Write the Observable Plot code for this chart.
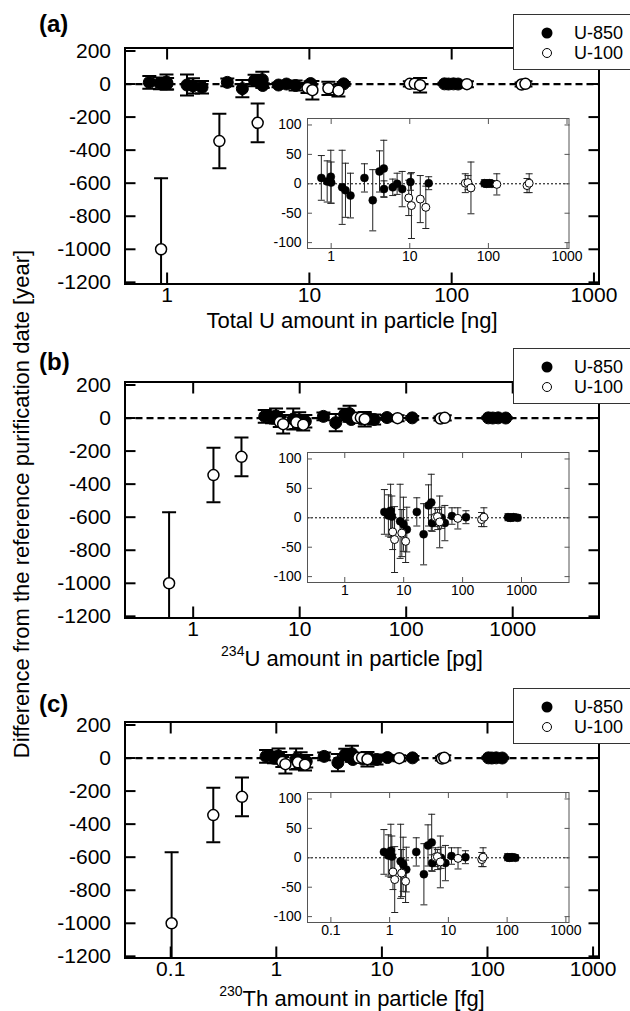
<!DOCTYPE html>
<html><head><meta charset="utf-8">
<script src="https://cdn.jsdelivr.net/npm/d3@7"></script>
<script src="https://cdn.jsdelivr.net/npm/@observablehq/plot@0.6"></script>
<style>
body{margin:0;background:#fff;}
#root{position:relative;width:630px;height:1011px;overflow:hidden;font-family:"Liberation Sans",Arial,sans-serif;color:#000;}
.panel{position:absolute;left:0;width:630px;height:337px;}
.abs{position:absolute;}
</style></head><body><div id="root"></div>
<script>
// ---- data ----
const seriesNames = ["U-850", "U-100"];
// U-850 (filled circles)
const u850TotalU = [0.75, 0.89, 0.99, 1.0, 1.38, 1.52, 1.76, 2.65, 3.38, 4.12, 4.67, 4.7, 6.07, 6.9, 8.0, 10.2, 17.4, 89, 95, 103, 111];
const u850U234   = [4.7, 5.5, 6.0, 6.3, 8.7, 9.9, 11.3, 16.7, 21.8, 26.4, 29.4, 30.5, 38, 44, 50, 66, 114, 590, 650, 730, 860];
const u850Th230  = [0.80, 0.95, 1.05, 1.09, 1.54, 1.70, 1.92, 2.84, 3.83, 4.5, 5.2, 5.3, 6.6, 7.5, 8.9, 11.3, 19.5, 102, 110, 121, 138];
const u850Diff   = [10, 4, 12, 2, -6, -11, -20, 10, -28, 21, 26, -9, -6, 0, -9, 3, 1, 1, 0, 1, 0];
const u850Err    = [38, 35, 45, 35, 63, 46, 38, 24, 52, 35, 48, 14, 14, 18, 30, 14, 11, 6, 6, 6, 5];
// U-100 (open circles)
const u100TotalU = [0.907, 2.33, 4.33, 9.7, 10.5, 13.6, 16, 50.8, 55, 60, 128, 310, 330];
const u100U234   = [0.594, 1.55, 2.84, 6.5, 7.0, 9.3, 10.8, 34.4, 37.5, 40.8, 83, 210, 230];
const u100Th230  = [0.102, 0.253, 0.473, 1.14, 1.22, 1.6, 1.87, 6.0, 6.5, 7.3, 14.6, 37, 39];
const u100Diff   = [-1000, -345, -235, -24, -37, -26, -40, 1, 2, -7, -1, -3, 1];
const u100Err    = [430, 165, 117, 30, 56, 40, 36, 16, 12, 44, 18, 12, 16];
// tick values
const mainYTicks = [-1200, -1000, -800, -600, -400, -200, 0, 200];
const insetYTicks = [-100, -50, 0, 50, 100];
const ticksAB = [1, 10, 100, 1000];
const ticksC = [0.1, 1, 10, 100, 1000];
const panelLabels = ["(a)", "(b)", "(c)"];
const yTitle = "Difference from the reference purification date [year]";

// ---- build rows ----
const u850 = u850TotalU.map((t, i) => ({a: t, b: u850U234[i], c: u850Th230[i], y: u850Diff[i], e: u850Err[i]}));
const u100 = u100TotalU.map((t, i) => ({a: t, b: u100U234[i], c: u100Th230[i], y: u100Diff[i], e: u100Err[i]}));
const all = u850.concat(u100);

const FONT = '"Liberation Sans", Arial, sans-serif';
const fmt = d => String(d);
const capSym = {draw(ctx, size) { const s = Math.sqrt(size / Math.PI); ctx.moveTo(-s, 0); ctx.lineTo(s, 0); }};

function mainPlot(key, xDomain, xTicks) {
  return Plot.plot({
    width: 630, height: 337,
    marginLeft: 124.5, marginRight: 31.5, marginTop: 47.5, marginBottom: 53.5,
    x: {type: "log", domain: xDomain},
    y: {domain: [-1210, 218]},
    style: {background: "transparent", fontFamily: FONT, fontSize: "21px", color: "#000", overflow: "visible"},
    marks: [
      Plot.ruleY([0], {stroke: "#000", strokeWidth: 2.2, strokeDasharray: "7,4"}),
      Plot.ruleX(all, {x: key, y1: d => d.y - d.e, y2: d => d.y + d.e, stroke: "#000", strokeWidth: 2, clip: true}),
      Plot.dot(all, {x: key, y: d => d.y + d.e, symbol: capSym, r: 7, fill: "none", stroke: "#000", strokeWidth: 2, clip: true}),
      Plot.dot(all, {x: key, y: d => d.y - d.e, symbol: capSym, r: 7, fill: "none", stroke: "#000", strokeWidth: 2, clip: true}),
      Plot.dot(u850, {x: key, y: "y", r: 6, fill: "#000", stroke: "#000", strokeWidth: 1}),
      Plot.dot(u100, {x: key, y: "y", r: 5.5, fill: "#fff", stroke: "#000", strokeWidth: 1.5}),
      Plot.frame({stroke: "#000", strokeWidth: 2}),
      Plot.axisX(xTicks, {anchor: "bottom", tickSize: 0, tickPadding: 3, tickFormat: fmt, label: null, fontSize: 21}),
      Plot.axisX(xTicks, {anchor: "bottom", tickSize: -11, fill: "none", strokeWidth: 2, label: null}),
      Plot.axisX(xTicks, {anchor: "top", tickSize: -11, fill: "none", strokeWidth: 2, label: null}),
      Plot.axisY(mainYTicks, {anchor: "left", tickSize: 0, tickPadding: 14, tickFormat: fmt, label: null, fontSize: 21}),
      Plot.axisY(mainYTicks, {anchor: "left", tickSize: -11, fill: "none", strokeWidth: 2, label: null}),
      Plot.axisY(mainYTicks, {anchor: "right", tickSize: -11, fill: "none", strokeWidth: 2, label: null})
    ]
  });
}

function insetPlot(key, xDomain, xTicks) {
  const rows850 = u850.filter(d => Math.abs(d.y) <= 100);
  const rows100 = u100.filter(d => Math.abs(d.y) <= 100);
  const rows = rows850.concat(rows100);
  return Plot.plot({
    width: 340, height: 175,
    marginLeft: 57, marginRight: 21.5, marginTop: 18, marginBottom: 27,
    x: {type: "log", domain: xDomain},
    y: {domain: [-110, 111]},
    style: {background: "transparent", fontFamily: FONT, fontSize: "14px", color: "#000", overflow: "visible"},
    marks: [
      Plot.frame({fill: "#fff", stroke: "none"}),
      Plot.ruleY([0], {stroke: "#000", strokeWidth: 1, strokeDasharray: "2,2"}),
      Plot.ruleX(rows, {x: key, y1: d => d.y - d.e, y2: d => d.y + d.e, stroke: "#222", strokeWidth: 1, clip: true}),
      Plot.dot(rows, {x: key, y: d => d.y + d.e, symbol: capSym, r: 3.5, fill: "none", stroke: "#222", strokeWidth: 1, clip: true}),
      Plot.dot(rows, {x: key, y: d => d.y - d.e, symbol: capSym, r: 3.5, fill: "none", stroke: "#222", strokeWidth: 1, clip: true}),
      Plot.dot(rows850, {x: key, y: "y", r: 4, fill: "#000", stroke: "#000", strokeWidth: 0.5}),
      Plot.dot(rows100, {x: key, y: "y", r: 4, fill: "#fff", stroke: "#000", strokeWidth: 1}),
      Plot.frame({stroke: "#555", strokeWidth: 1}),
      Plot.axisX(xTicks, {anchor: "bottom", tickSize: 0, tickPadding: 3, tickFormat: fmt, label: null, fontSize: 14}),
      Plot.axisX(xTicks, {anchor: "bottom", tickSize: -5, fill: "none", stroke: "#555", label: null}),
      Plot.axisX(xTicks, {anchor: "top", tickSize: -5, fill: "none", stroke: "#555", label: null}),
      Plot.axisY(insetYTicks, {anchor: "left", tickSize: 0, tickPadding: 6, tickFormat: fmt, label: null, fontSize: 14}),
      Plot.axisY(insetYTicks, {anchor: "left", tickSize: -5, fill: "none", stroke: "#555", label: null}),
      Plot.axisY(insetYTicks, {anchor: "right", tickSize: -5, fill: "none", stroke: "#555", label: null})
    ]
  });
}

const root = document.getElementById("root");
const panels = [
  {key: "a", top: 0, dom: [0.506, 1085], idom: [0.5, 1060], ticks: ticksAB, labY: 24, titleY: 321,
   title: "Total U amount in particle [ng]"},
  {key: "b", top: 334.2, dom: [0.229, 6460], idom: [0.233, 6400], ticks: ticksAB, labY: 28, titleY: 325,
   title: "<sup>234</sup>U amount in particle [pg]"},
  {key: "c", top: 674.2, dom: [0.0369, 1138], idom: [0.04, 1130], ticks: ticksC, labY: 30, titleY: 325,
   title: "<sup>230</sup>Th amount in particle [fg]"}
];

panels.forEach((p, i) => {
  const div = document.createElement("div");
  div.className = "panel";
  div.style.top = p.top + "px";
  root.appendChild(div);
  const m = mainPlot(p.key, p.dom, p.ticks);
  m.style.position = "absolute"; m.style.left = "0px"; m.style.top = "0px";
  div.appendChild(m);
  const ins = insetPlot(p.key, p.idom, p.ticks);
  ins.style.position = "absolute"; ins.style.left = "250px"; ins.style.top = "100px";
  div.appendChild(ins);
  // panel label
  const lab = document.createElement("div");
  lab.textContent = panelLabels[i];
  lab.style.cssText = `position:absolute;left:39px;top:${p.labY - 14}px;font-size:24px;font-weight:bold;line-height:28px;`;
  div.appendChild(lab);
  // x title
  const t = document.createElement("div");
  t.innerHTML = p.title;
  t.style.cssText = `position:absolute;left:352px;top:${p.titleY - 11}px;transform:translateX(-50%);white-space:nowrap;font-size:22px;line-height:22px;`;
  t.querySelectorAll("sup").forEach(s => { s.style.fontSize = "14px"; s.style.verticalAlign = "top"; s.style.position = "relative"; s.style.top = "-4px"; s.style.lineHeight = "14px"; });
  div.appendChild(t);
  // legend
  const lg = document.createElement("div");
  lg.style.cssText = "position:absolute;left:513px;top:14px;width:140px;height:54px;border:1px solid #333;background:#fff;";
  lg.innerHTML = `<svg width="60" height="54" style="position:absolute;left:0;top:0">
      <circle cx="33" cy="18" r="5.5" fill="#000"/>
      <circle cx="33" cy="38" r="4.5" fill="#fff" stroke="#000" stroke-width="1"/></svg>
    <div style="position:absolute;left:60px;top:7px;font-size:18px;line-height:22px;">${seriesNames[0]}</div>
    <div style="position:absolute;left:60px;top:27px;font-size:18px;line-height:22px;">${seriesNames[1]}</div>`;
  div.appendChild(lg);
});

const yl = document.createElement("div");
yl.textContent = yTitle;
yl.style.cssText = "position:absolute;left:22px;top:504px;transform:translate(-50%,-50%) rotate(-90deg);white-space:nowrap;font-size:22px;line-height:26px;";
root.appendChild(yl);
</script>
</body></html>
